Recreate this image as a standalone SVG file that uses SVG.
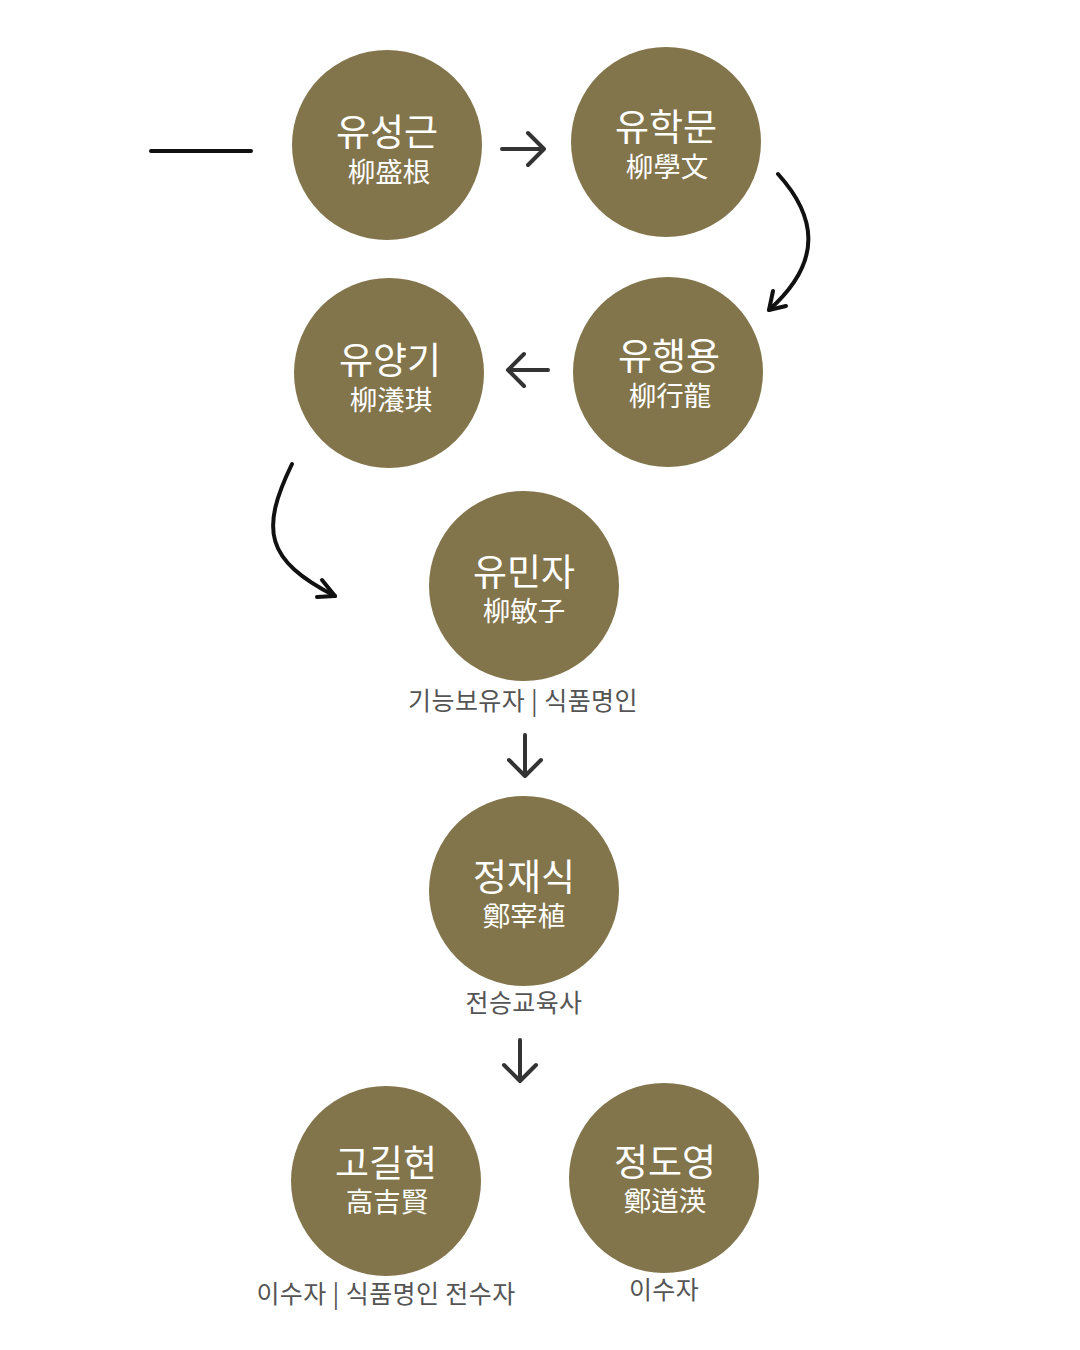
<svg xmlns="http://www.w3.org/2000/svg" width="1080" height="1350" viewBox="0 0 1080 1350">
<style>
.c{fill:#82744b}
.n{font-family:"Noto Sans CJK KR","Noto Sans",sans-serif;font-size:37px;fill:#fff;text-anchor:middle}
.h{font-family:"Noto Sans CJK KR","Noto Sans CJK TC",sans-serif;font-size:27.5px;fill:#fff;text-anchor:middle}
.l{font-family:"Noto Sans CJK KR","Noto Sans",sans-serif;font-size:25px;letter-spacing:0.4px;fill:#555;text-anchor:middle}
.a{fill:none;stroke:#333;stroke-width:4;stroke-linecap:round;stroke-linejoin:round}
.k{fill:none;stroke:#111;stroke-width:4;stroke-linecap:round;stroke-linejoin:round}
</style>
<rect width="1080" height="1350" fill="#fff"/>
<g id="connectors">
<line class="k" x1="151" y1="151" x2="251" y2="151"/>
<path class="a" d="M502 149H544M528 133L544 149L528 165"/>
<path class="k" d="M778 174C815 215 825 260 769 310"/>
<path class="k" d="M769 310L773 291M769 310L786 306"/>
<path class="a" d="M548 370H508M524 354L508 370L524 386"/>
<path class="k" d="M292 464C260 530 265 560 335 596"/>
<path class="k" d="M335 596L322 580M335 596L317 597"/>
<path class="a" d="M525 735V776M509 760L525 776L541 760"/>
<path class="a" d="M520 1040V1081M504 1065L520 1081L536 1065"/>
</g>
<g id="n1"><circle class="c" cx="387" cy="145" r="95"/><text class="n" x="387" y="146">유성근</text><text class="h" x="389" y="182">柳盛根</text></g>
<g id="n2"><circle class="c" cx="666" cy="142" r="95"/><text class="n" x="666" y="141">유학문</text><text class="h" x="667" y="177">柳學文</text></g>
<g id="n3"><circle class="c" cx="389" cy="373" r="95"/><text class="n" x="390" y="374">유양기</text><text class="h" x="391" y="410">柳瀁琪</text></g>
<g id="n4"><circle class="c" cx="668" cy="372" r="95"/><text class="n" x="669" y="370">유행용</text><text class="h" x="670" y="406">柳行龍</text></g>
<g id="n5"><circle class="c" cx="524" cy="586" r="95"/><text class="n" x="524" y="586">유민자</text><text class="h" x="524" y="621">柳敏子</text><text class="l" x="523" y="710">기능보유자 | 식품명인</text></g>
<g id="n6"><circle class="c" cx="524" cy="891" r="95"/><text class="n" x="524" y="891">정재식</text><text class="h" x="524" y="926">鄭宰植</text><text class="l" x="524" y="1012">전승교육사</text></g>
<g id="n7"><circle class="c" cx="386" cy="1181" r="95"/><text class="n" x="386" y="1177">고길현</text><text class="h" x="387" y="1212">高吉賢</text><text class="l" x="386" y="1303">이수자 | 식품명인 전수자</text></g>
<g id="n8"><circle class="c" cx="664" cy="1178" r="95"/><text class="n" x="665" y="1176">정도영</text><text class="h" x="665" y="1211">鄭道渶</text><text class="l" x="664" y="1299">이수자</text></g>
</svg>
